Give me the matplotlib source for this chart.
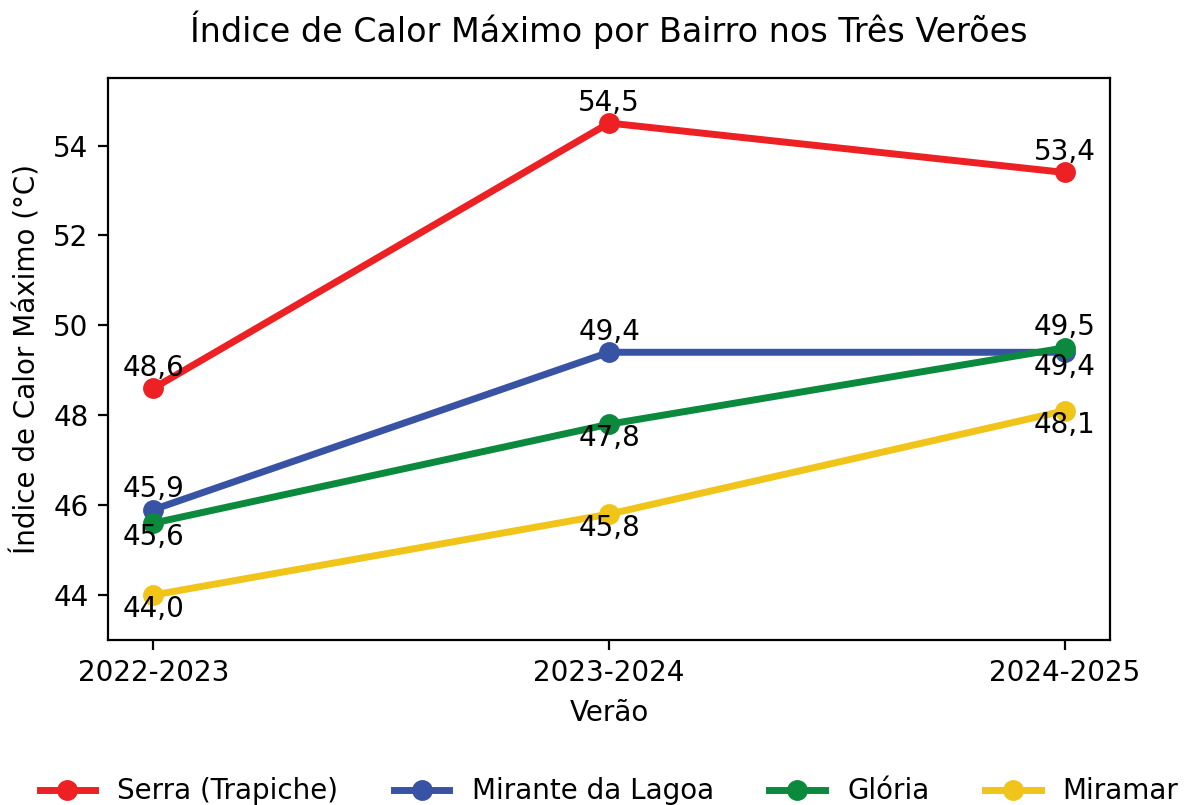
import matplotlib
matplotlib.use("Agg")
import matplotlib.pyplot as plt

veroes = ["2022-2023", "2023-2024", "2024-2025"]
serra = [48.6, 54.5, 53.4]
mirante = [45.9, 49.4, 49.4]
gloria = [45.6, 47.8, 49.5]
miramar = [44.0, 45.8, 48.1]

nomes = ["Serra (Trapiche)", "Mirante da Lagoa", "Glória", "Miramar"]
cores = ["#ED2024", "#3953A4", "#0B8A3E", "#F0C419"]
# label above (+1) or below (-1) for each point
posicoes = [[1, 1, 1], [1, 1, -1], [-1, -1, 1], [-1, -1, -1]]

fig, ax = plt.subplots(figsize=(5.925, 4.025), dpi=200)
fig.subplots_adjust(left=0.091, right=0.937, top=0.903, bottom=0.205)

x = list(range(len(veroes)))
for serie, nome, cor, pos in zip([serra, mirante, gloria, miramar], nomes, cores, posicoes):
    ax.plot(x, serie, color=cor, linewidth=2.5, marker="o", markersize=6.5, label=nome)
    for xi, yi, p in zip(x, serie, pos):
        dy = 4.5 if p > 0 else -8
        ax.annotate(f"{yi:.1f}".replace(".", ","), (xi, yi), xytext=(0, dy),
                    textcoords="offset points", ha="center", fontsize=10)

ax.set_xticks(x)
ax.set_xticklabels(veroes)
ax.set_xlim(-0.1, 2.1)
ax.set_ylim(43, 55.5)
ax.set_xlabel("Verão")
ax.set_ylabel("Índice de Calor Máximo (°C)")
ax.set_title("Índice de Calor Máximo por Bairro nos Três Verões", pad=13)
ax.legend(loc="upper center", bbox_to_anchor=(0.5, -0.20), ncol=4, frameon=False)

fig.savefig("out.png")
